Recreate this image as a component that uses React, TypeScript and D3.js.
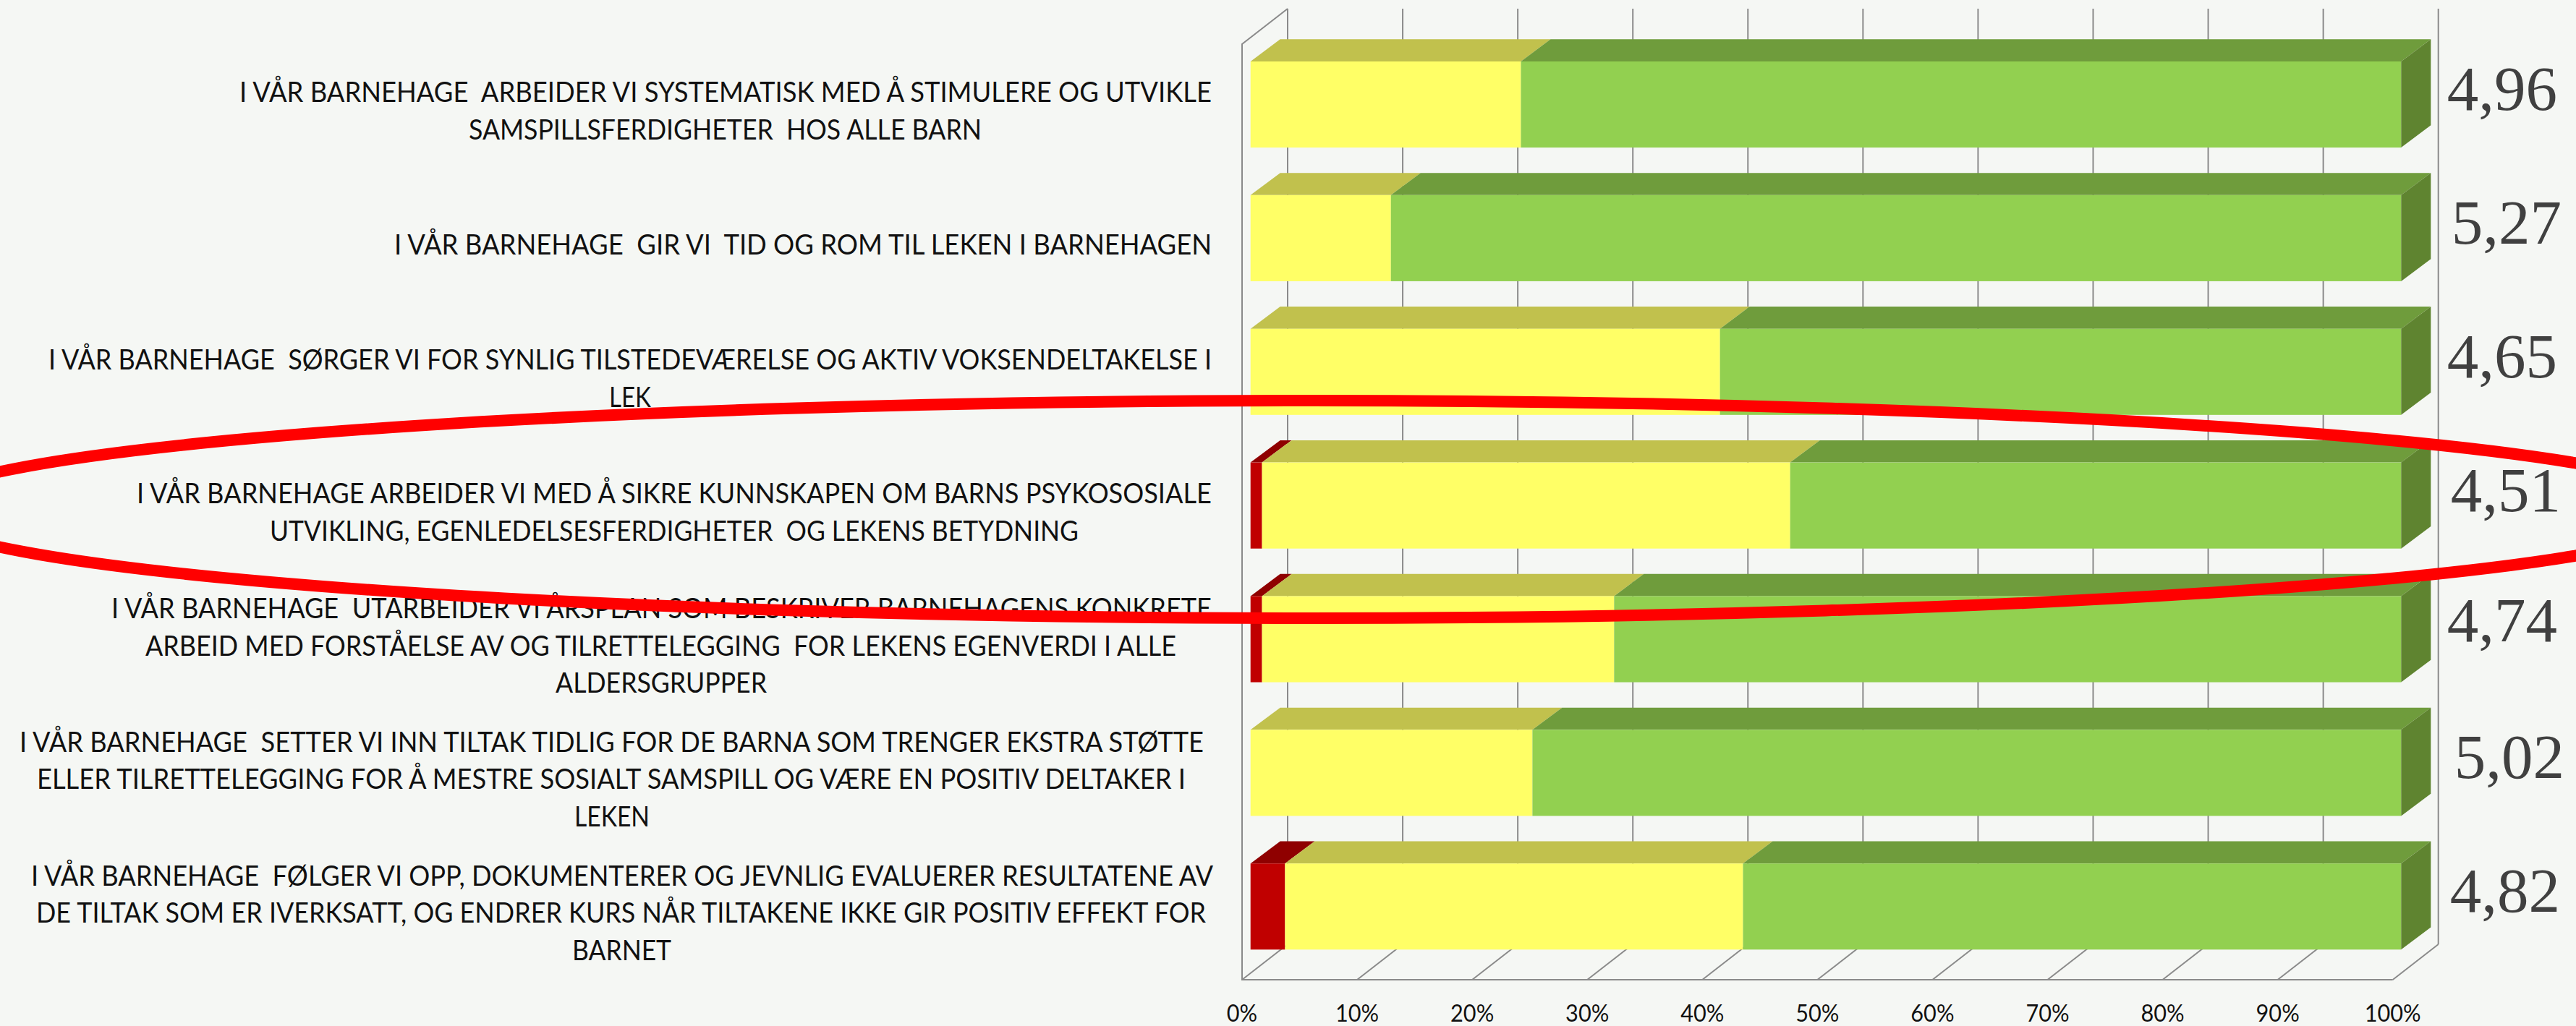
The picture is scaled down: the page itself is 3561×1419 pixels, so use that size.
import React, { useEffect, useRef } from 'react';
import * as d3 from 'd3';

const width = 3561;
const height = 1419;

const statements = [
  ['I VÅR BARNEHAGE  ARBEIDER VI SYSTEMATISK MED Å STIMULERE OG UTVIKLE', 'SAMSPILLSFERDIGHETER  HOS ALLE BARN'],
  ['I VÅR BARNEHAGE  GIR VI  TID OG ROM TIL LEKEN I BARNEHAGEN'],
  ['I VÅR BARNEHAGE  SØRGER VI FOR SYNLIG TILSTEDEVÆRELSE OG AKTIV VOKSENDELTAKELSE I', 'LEK'],
  ['I VÅR BARNEHAGE ARBEIDER VI MED Å SIKRE KUNNSKAPEN OM BARNS PSYKOSOSIALE', 'UTVIKLING, EGENLEDELSESFERDIGHETER  OG LEKENS BETYDNING'],
  ['I VÅR BARNEHAGE  UTARBEIDER VI ÅRSPLAN SOM BESKRIVER BARNEHAGENS KONKRETE', 'ARBEID MED FORSTÅELSE AV OG TILRETTELEGGING  FOR LEKENS EGENVERDI I ALLE', 'ALDERSGRUPPER'],
  ['I VÅR BARNEHAGE  SETTER VI INN TILTAK TIDLIG FOR DE BARNA SOM TRENGER EKSTRA STØTTE', 'ELLER TILRETTELEGGING FOR Å MESTRE SOSIALT SAMSPILL OG VÆRE EN POSITIV DELTAKER I', 'LEKEN'],
  ['I VÅR BARNEHAGE  FØLGER VI OPP, DOKUMENTERER OG JEVNLIG EVALUERER RESULTATENE AV', 'DE TILTAK SOM ER IVERKSATT, OG ENDRER KURS NÅR TILTAKENE IKKE GIR POSITIV EFFEKT FOR', 'BARNET'],
];
const red = [0, 0, 0, 1, 1, 0, 3];
const yellow = [23.5, 12.2, 40.8, 45.9, 30.6, 24.5, 39.8];
const green = [76.5, 87.8, 59.2, 53.1, 68.4, 75.5, 57.2];
const scores = ['4,96', '5,27', '4,65', '4,51', '4,74', '5,02', '4,82'];
const ticks = [0, 10, 20, 30, 40, 50, 60, 70, 80, 90, 100];

// text layout: [left, right] of each statement line
const lineExtents = [
  [[331, 1675], [648, 1357]],
  [[545, 1675]],
  [[67, 1675], [842, 900]],
  [[189, 1675], [373, 1491]],
  [[154, 1675], [201, 1626], [768, 1060]],
  [[27, 1664], [51, 1639], [794, 898]],
  [[43, 1677], [50, 1667], [791, 928]],
];
const scoreRight = [3535, 3541, 3535, 3540, 3535, 3545, 3539];
const scoreNudge = [0, 0, 0, 0, -4, 0, 0];

const colors: Record<string, [string, string, string]> = {
  red: ['#c00000', '#8f0000', '#8f0000'],
  yellow: ['#ffff66', '#c1c14d', '#c1c14d'],
  green: ['#92d050', '#6f9c3c', '#5f8430'],
};

const App = () => {
  const domref = useRef<SVGSVGElement>(null);

  useEffect(() => {
    const svg = d3.select(domref.current);
    svg.selectAll('*').remove();

    const keys = ['red', 'yellow', 'green'];
    const table = statements.map((_, i) => ({ red: red[i], yellow: yellow[i], green: green[i] }));
    const series = d3.stack<any>().keys(keys)(table);

    const x = d3.scaleLinear().domain([0, 100]).range([1728.7, 3319.3]);
    const y = d3.scaleBand<number>().domain(d3.range(statements.length)).range([85, 1313.3]).paddingInner(0.356);
    const floor = d3.scaleLinear().domain([0, 100]).range([1717, 3307.7]);
    const bandH = y.bandwidth();

    const dx = 41, dy = 30.7; // bar depth
    const wallDx = 63, wallDy = 49; // chart depth
    const floorY = 1355;
    const wallTop = 12;

    svg.append('rect').attr('width', width).attr('height', height).attr('fill', '#f5f7f4');

    const grid = svg.append('g').attr('fill', 'none').attr('stroke', '#8a8a8a').attr('stroke-width', 2);
    grid.selectAll('.back').data(ticks).join('line')
      .attr('x1', d => floor(d) + wallDx).attr('x2', d => floor(d) + wallDx)
      .attr('y1', wallTop).attr('y2', floorY - wallDy);
    grid.selectAll('.diag').data(ticks).join('line')
      .attr('x1', d => floor(d)).attr('x2', d => floor(d) + wallDx)
      .attr('y1', floorY).attr('y2', floorY - wallDy);
    grid.append('path').attr('d', `M${floor(0) + wallDx},${wallTop}L${floor(0)},${wallTop + wallDy}V${floorY}H${floor(100)}`);

    series.forEach(s => {
      const [front, top, side] = colors[s.key];
      const g = svg.append('g');
      s.forEach((d, i) => {
        if (d[1] - d[0] <= 0) return;
        const x0 = x(d[0]), x1 = x(d[1]), yt = y(i)!;
        g.append('path').attr('fill', top)
          .attr('d', `M${x0},${yt}L${x0 + dx},${yt - dy}H${x1 + dx}L${x1},${yt}Z`);
        g.append('rect').attr('fill', front)
          .attr('x', x0).attr('y', yt).attr('width', x1 - x0).attr('height', bandH);
        if (s.key === 'green') {
          g.append('path').attr('fill', side)
            .attr('d', `M${x1},${yt}L${x1 + dx},${yt - dy}V${yt + bandH - dy}L${x1},${yt + bandH}Z`);
        }
      });
    });

    // statements on the left
    const lineStep = 51.7;
    const labels = svg.append('g').attr('font-family', 'Lato').attr('font-size', 38).attr('fill', '#111');
    statements.forEach((lines, i) => {
      const mid = y(i)! + bandH / 2 + 22.5;
      lines.forEach((line, j) => {
        const [left, right] = lineExtents[i][j];
        labels.append('text')
          .attr('xml:space', 'preserve')
          .attr('x', left)
          .attr('y', mid + (j - (lines.length - 1) / 2) * lineStep)
          .attr('textLength', right - left)
          .attr('lengthAdjust', 'spacingAndGlyphs')
          .text(line);
      });
    });

    svg.append('g').attr('font-family', 'Liberation Serif').attr('font-size', 87).attr('fill', '#404040')
      .attr('text-anchor', 'end')
      .selectAll('text').data(scores).join('text')
      .attr('x', (_, i) => scoreRight[i])
      .attr('y', (_, i) => y(i)! + 67 + scoreNudge[i])
      .text(d => d);

    svg.append('g').attr('font-family', 'Lato').attr('font-size', 33).attr('fill', '#111')
      .attr('text-anchor', 'middle')
      .selectAll('text').data(ticks).join('text')
      .attr('transform', d => `translate(${floor(d)},1413) scale(0.93,1)`)
      .text(d => `${d}%`);

    // the hand-drawn ring round statement 4
    svg.append('ellipse')
      .attr('cx', 1812).attr('cy', 704.5).attr('rx', 1932).attr('ry', 150.5)
      .attr('fill', 'none').attr('stroke', '#ff0000').attr('stroke-width', 16);
  }, []);

  return (
    <svg ref={domref} width={width} height={height} viewBox={`0 0 ${width} ${height}`}
      style={{ position: 'fixed', left: 0, top: 0, display: 'block' }} />
  );
};

export default App;
